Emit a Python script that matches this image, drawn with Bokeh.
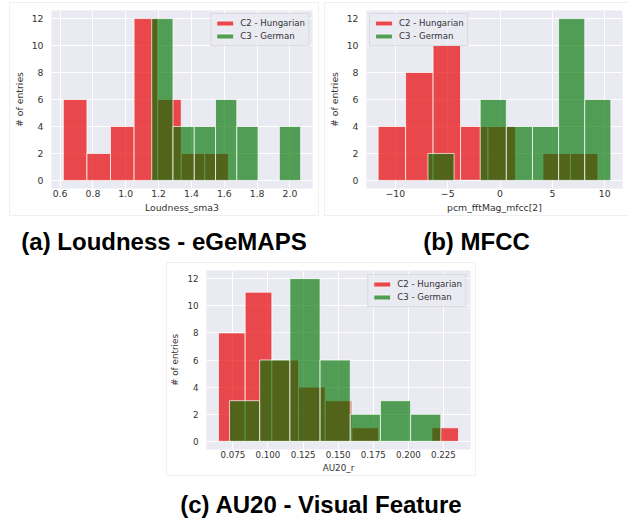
import numpy as np
from bokeh.plotting import figure
from bokeh.models import Range1d, Legend, LegendItem, Div, PrintfTickFormatter
from bokeh.layouts import column, row
from bokeh.embed import file_html
from bokeh.resources import INLINE

# ---------------- data ----------------
SERIES = ["C2 - Hungarian", "C3 - German"]
Y_LABEL = "# of entries"
Y_TICKS = [0, 2, 4, 6, 8, 10, 12]

# (a) Loudness - eGeMAPS
loud_hu_range = (0.620, 1.625)
loud_hu_counts = [6, 2, 4, 12, 6, 2, 2]
loud_de_range = (1.158, 2.065)
loud_de_counts = [12, 4, 4, 6, 4, 0, 4]
loud_ticks = [0.6, 0.8, 1.0, 1.2, 1.4, 1.6, 1.8, 2.0]
loud_xlabel = "Loudness_sma3"

# (b) MFCC
mfcc_hu_range = (-11.65, 9.35)
mfcc_hu_counts = [4, 8, 10, 4, 4, 0, 2, 2]
mfcc_de_range = (-6.89, 10.59)
mfcc_de_counts = [2, 0, 6, 4, 4, 12, 6]
mfcc_ticks = [-10, -5, 0, 5, 10]
mfcc_xlabel = "pcm_fftMag_mfcc[2]"

# (c) AU20 - Visual Feature
au_hu_range = (0.06476, 0.23571)
au_hu_counts = [8, 11, 6, 4, 3, 1, 0, 0, 1]
au_de_range = (0.07262, 0.2231)
au_de_counts = [3, 6, 12, 6, 2, 3, 2]
au_ticks = [0.075, 0.100, 0.125, 0.150, 0.175, 0.200, 0.225]
au_xlabel = "AU20_r"

CAPTIONS = ["(a) Loudness - eGeMAPS", "(b) MFCC", "(c) AU20 - Visual Feature"]

# ---------------- style ----------------
BG = "#EAEAF2"
RED = "#e80a0a"
GREEN = "#007300"
TXT = "#333333"
FONT = "DejaVu Sans"


def panel(hu_range, hu_counts, de_range, de_counts, xticks, fmt, xlabel,
          legend_loc, width, borders, tick_fs, label_fs, overrides=None,
          legend_margin=3):
    lo = min(hu_range[0], de_range[0])
    hi = max(hu_range[1], de_range[1])
    pad = 0.05 * (hi - lo)
    ymax = max(max(hu_counts), max(de_counts))
    left, right, top, bottom = borders
    p = figure(width=width, height=212, output_backend="svg", toolbar_location=None,
               x_range=Range1d(lo - pad, hi + pad),
               y_range=Range1d(-0.05 * ymax, 1.05 * ymax),
               min_border_left=left, min_border_right=right,
               min_border_top=top, min_border_bottom=bottom,
               background_fill_color=BG, border_fill_color="white",
               outline_line_color=None)
    p.styles = {"box-shadow": "0 0 0 1px #f0f0f0"}

    rends = []
    for rng, counts, col, alpha in ((hu_range, hu_counts, RED, 0.72),
                                     (de_range, de_counts, GREEN, 0.65)):
        edges = np.linspace(rng[0], rng[1], len(counts) + 1)
        r = p.quad(left=edges[:-1], right=edges[1:], bottom=0, top=counts,
                   fill_color=col, fill_alpha=alpha,
                   line_color="white", line_alpha=0.7, line_width=1)
        rends.append(r)

    p.xaxis.ticker = xticks
    p.yaxis.ticker = Y_TICKS
    p.xaxis.formatter = PrintfTickFormatter(format=fmt)
    if overrides:
        p.xaxis.major_label_overrides = overrides
    p.xaxis.axis_label = xlabel
    p.yaxis.axis_label = Y_LABEL
    for ax in (p.xaxis[0], p.yaxis[0]):
        ax.axis_line_color = None
        ax.major_tick_line_color = None
        ax.minor_tick_line_color = None
        ax.major_tick_out = 0
        ax.major_tick_in = 0
        ax.minor_tick_out = 0
        ax.major_label_text_font = FONT
        ax.major_label_text_font_size = tick_fs
        ax.major_label_text_color = TXT
        ax.axis_label_text_font = FONT
        ax.axis_label_text_font_size = label_fs
        ax.axis_label_text_font_style = "normal"
        ax.axis_label_text_color = TXT
    p.xaxis.major_label_standoff = 1
    p.xaxis.axis_label_standoff = 2
    p.yaxis.major_label_standoff = 8
    p.yaxis.axis_label_standoff = 4

    for g in (p.xgrid[0], p.ygrid[0]):
        g.grid_line_color = "white"
        g.grid_line_width = 1

    legend = Legend(items=[LegendItem(label=SERIES[0], renderers=[rends[0]]),
                           LegendItem(label=SERIES[1], renderers=[rends[1]])],
                    location=legend_loc, margin=legend_margin, padding=3,
                    spacing=1, label_height=12, glyph_height=6, glyph_width=21,
                    label_standoff=5,
                    label_text_font=FONT, label_text_font_size="8.6px",
                    label_text_color=TXT,
                    background_fill_color=BG, background_fill_alpha=0.8,
                    border_line_color="#cccccc", border_line_width=1)
    p.add_layout(legend)
    return p


pa = panel(loud_hu_range, loud_hu_counts, loud_de_range, loud_de_counts,
           loud_ticks, "%.1f", loud_xlabel, "top_right", 308, (39, 6, 7, 25),
           "9.3px", "9.3px")
pb = panel(mfcc_hu_range, mfcc_hu_counts, mfcc_de_range, mfcc_de_counts,
           mfcc_ticks, "%d", mfcc_xlabel, "top_left", 303, (40, 6, 7, 25),
           "9.3px", "9.3px", overrides={-10: "\u221210", -5: "\u22125"})
pc = panel(au_hu_range, au_hu_counts, au_de_range, au_de_counts,
           au_ticks, "%.3f", au_xlabel, "top_right", 308, (39, 5, 7, 25),
           "8.7px", "8.8px", legend_margin=4)

pa.margin = (3, 0, 0, 10)
pb.margin = (3, 0, 0, 7)
pc.margin = (7, 0, 0, 167)

cap_style = {"font-family": "Liberation Sans, Arial, sans-serif", "font-size": "24px",
             "font-weight": "bold", "text-align": "center", "color": "black",
             "line-height": "28px"}


def caption(text, width, margin):
    return Div(text=text, width=width, height=28, margin=margin, styles=cap_style)


layout = column(
    row(pa, pb),
    row(caption(CAPTIONS[0], 308, (13, 0, 0, 10)), caption(CAPTIONS[1], 303, (13, 0, 0, 7))),
    pc,
    caption(CAPTIONS[2], 308, (16, 0, 0, 167)),
)

open("out.html", "w").write(file_html(layout, INLINE))
